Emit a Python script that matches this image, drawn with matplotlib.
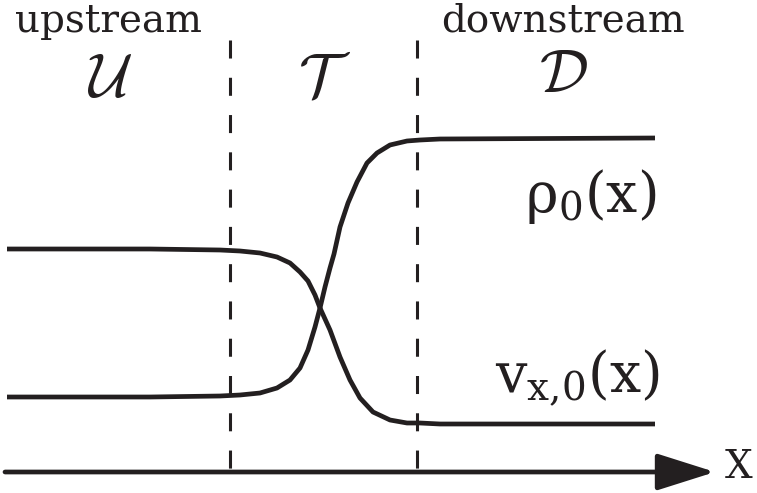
"""Esquema do perfil de choque: regiões upstream / transição / downstream."""

import matplotlib.pyplot as plt

# curvas (coordenadas em pixels da imagem, y para baixo)
rho_x = [7, 150, 220, 240, 260, 277, 290, 300, 308, 315, 320, 325, 330, 334,
         340, 348, 357, 367, 377, 390, 407, 420, 440, 655]
rho_y = [397, 397, 396, 395, 393, 388, 380, 368, 350, 327, 308, 287, 268, 254,
         227, 203, 182, 163, 153, 145, 141, 140, 139, 138]

vel_x = [7, 150, 220, 240, 260, 277, 290, 300, 308, 315, 320, 330, 340, 350,
         360, 373, 390, 407, 420, 440, 655]
vel_y = [249, 249, 250, 251, 253, 257, 263, 272, 281, 295, 308, 330, 357, 380,
         398, 412, 420, 423, 423, 424, 424]

fronteiras = [230, 417]
regioes = [r'$\mathcal{U}$', r'$\mathcal{T}$', r'$\mathcal{D}$']
cor = '#231f20'
serif = 'DejaVu Serif'

plt.rcParams['mathtext.fontset'] = 'custom'
plt.rcParams['mathtext.rm'] = serif
plt.rcParams['mathtext.it'] = serif + ':italic'

fig = plt.figure(figsize=(7.57, 4.93), dpi=100)
ax = fig.add_axes([0, 0, 1, 1])
ax.set_xlim(0, 757)
ax.set_ylim(493, 0)
ax.axis('off')

ax.plot(rho_x, rho_y, color=cor, lw=3.4, solid_capstyle='butt', solid_joinstyle='round')
ax.plot(vel_x, vel_y, color=cor, lw=3.4, solid_capstyle='butt', solid_joinstyle='round')

for xf in fronteiras:
    ax.plot([xf, xf], [40, 470], color=cor, lw=2.2, linestyle=(0, (5.9, 6.3)))

# eixo x com seta
ax.annotate('', xy=(715, 472), xytext=(5, 472),
            arrowprops=dict(arrowstyle='-|>,head_length=3.0,head_width=0.95',
                            mutation_scale=12, lw=3.4, color=cor,
                            shrinkA=0, shrinkB=0))

ax.text(739, 468, 'X', fontsize=28, family=serif, color=cor, ha='center', va='center')
ax.text(109, 32, 'upstream', fontsize=28, family=serif, color=cor, ha='center', va='baseline')
ax.text(563, 32, 'downstream', fontsize=28, family=serif, color=cor, ha='center', va='baseline')

for xc, yc, lab in zip([110, 325, 563], [80, 79, 76], regioes):
    ax.text(xc, yc, lab, fontsize=44, color=cor, ha='center', va='center',
            math_fontfamily='cm')

ax.text(525, 212, r'$\mathrm{ρ}_0(\mathrm{x})$', fontsize=40, color=cor,
        ha='left', va='baseline', math_fontfamily='custom')
ax.text(495, 393, r'$\mathrm{v}_{\mathrm{x{,}0}}(\mathrm{x})$', fontsize=40, color=cor,
        ha='left', va='baseline', math_fontfamily='custom')

fig.savefig('out.png', dpi=100)
